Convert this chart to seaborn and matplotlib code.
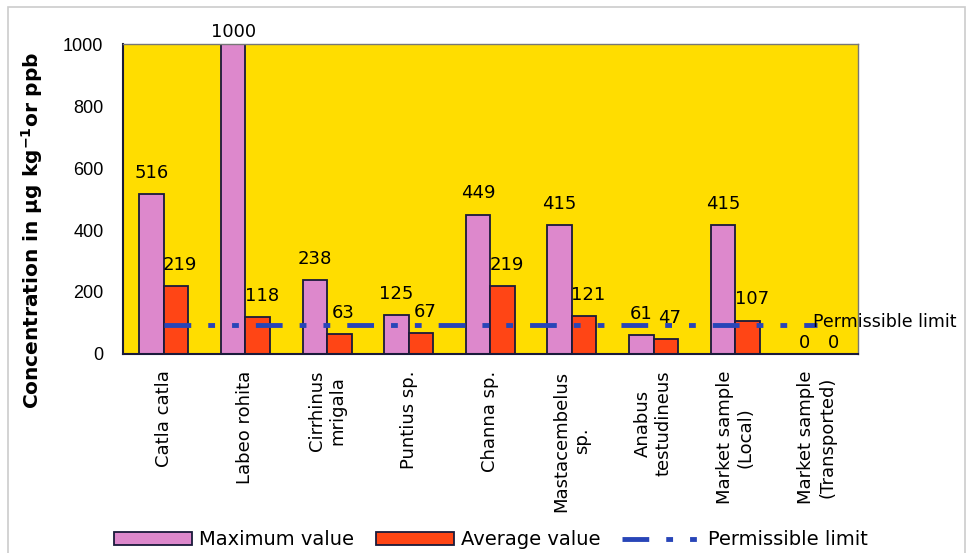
import numpy as np
import pandas as pd
import matplotlib
matplotlib.use("Agg")
import matplotlib.pyplot as plt
import seaborn as sns
from matplotlib.patches import Patch, Rectangle
from matplotlib.lines import Line2D

# Data
categories = ["Catla catla", "Labeo rohita", "Cirrhinus\nmrigala", "Puntius sp.",
              "Channa sp.", "Mastacembelus\nsp.", "Anabus\ntestudineus",
              "Market sample\n(Local)", "Market sample\n(Transported)"]
max_values = [516, 1000, 238, 125, 449, 415, 61, 415, 0]
avg_values = [219, 118, 63, 67, 219, 121, 47, 107, 0]
permissible_limit = [95] * len(categories)

series_names = ["Maximum value", "Average value"]
colors = ["#DD88CC", "#FF4515"]
line_color = "#2845B8"
edge = "#1a1a3a"
limit_dashes = (5.5, 3.5, 1.4, 3.5, 1.4, 3.5)

df = pd.DataFrame({
    "category": categories * 2,
    "series": [series_names[0]] * len(categories) + [series_names[1]] * len(categories),
    "value": max_values + avg_values,
})

sns.set_style("white")
plt.rcParams["font.family"] = ["DejaVu Sans"]
plt.rcParams["mathtext.default"] = "regular"
plt.rcParams["text.color"] = "black"
plt.rcParams["xtick.color"] = "black"
plt.rcParams["ytick.color"] = "black"
plt.rcParams["axes.labelcolor"] = "black"

fig = plt.figure(figsize=(9.68, 5.53), dpi=100)
ax = fig.add_axes([0.127, 0.360, 0.759, 0.560])
ax.set_facecolor("#FFDD00")

sns.barplot(data=df, x="category", y="value", hue="series", order=categories,
            hue_order=series_names, palette=colors, saturation=1, width=0.6, gap=0,
            edgecolor=edge, linewidth=1.3, legend=False, ax=ax)

# Permissible limit line
x = np.arange(len(categories))
ax.plot(x, permissible_limit, color=line_color, linewidth=3.5,
        dashes=limit_dashes, zorder=5)
ax.annotate("Permissible limit", (x[-1] - 0.05, permissible_limit[-1]),
            xytext=(0, 2), textcoords="offset points", fontsize=12.5,
            va="center", ha="left", annotation_clip=False, zorder=6)

# Value labels
for i, cont in enumerate(ax.containers):
    for bar, v in zip(cont, cont.datavalues):
        cx = bar.get_x() + bar.get_width() / 2
        ly = min(v + 40, 1010) if v > 0 else 5
        ax.annotate(f"{int(v)}", (cx, ly),
                    xytext=(3 if i == 1 else 0, 0), textcoords="offset points",
                    ha="center", va="bottom", fontsize=13,
                    annotation_clip=False)

ax.set_ylim(0, 1000)
ax.set_xlim(-0.5, len(categories) - 0.5)
ax.set_yticks(range(0, 1001, 200))
ax.tick_params(axis="y", direction="inout", length=10, width=1.3,
               labelsize=13, color=edge, pad=9)
for lab in ax.get_yticklabels():
    lab.set_family("Liberation Sans")
ax.set_xticks(x)
ax.set_xticklabels(categories, rotation=90, fontsize=13, ha="center",
                   va="top", multialignment="center")
ax.tick_params(axis="x", length=0, pad=12)
ax.set_xticks(np.arange(-0.5, len(categories)), minor=True)
ax.tick_params(axis="x", which="minor", direction="out", length=7, width=1.3,
               color=edge)

ax.set_xlabel("")
ax.set_ylabel("Concentration in μg kg$^{-1}$or ppb", fontsize=14.5,
              fontweight="bold")
ax.yaxis.set_label_coords(-0.106, 0.40)

for side in ["left", "bottom"]:
    ax.spines[side].set_color(edge)
    ax.spines[side].set_linewidth(1.5)
for side in ["top", "right"]:
    ax.spines[side].set_color("#777777")
    ax.spines[side].set_linewidth(1.0)

# Outer frame
fig.patches.append(Rectangle((0.008, -0.01), 0.989, 0.997, transform=fig.transFigure,
                             fill=False, edgecolor="#cccccc", linewidth=1.2))

handles = [Patch(facecolor=colors[0], edgecolor=edge, linewidth=1.3),
           Patch(facecolor=colors[1], edgecolor=edge, linewidth=1.3),
           Line2D([], [], color=line_color, linewidth=3.5, dashes=limit_dashes)]
fig.legend(handles, series_names + ["Permissible limit"], loc="center",
           bbox_to_anchor=(0.507, 0.024), ncol=3, frameon=False, fontsize=14,
           handlelength=4.0, handleheight=0.6, handletextpad=0.4,
           columnspacing=1.1)

fig.savefig("out.png", dpi=100, facecolor="white")
